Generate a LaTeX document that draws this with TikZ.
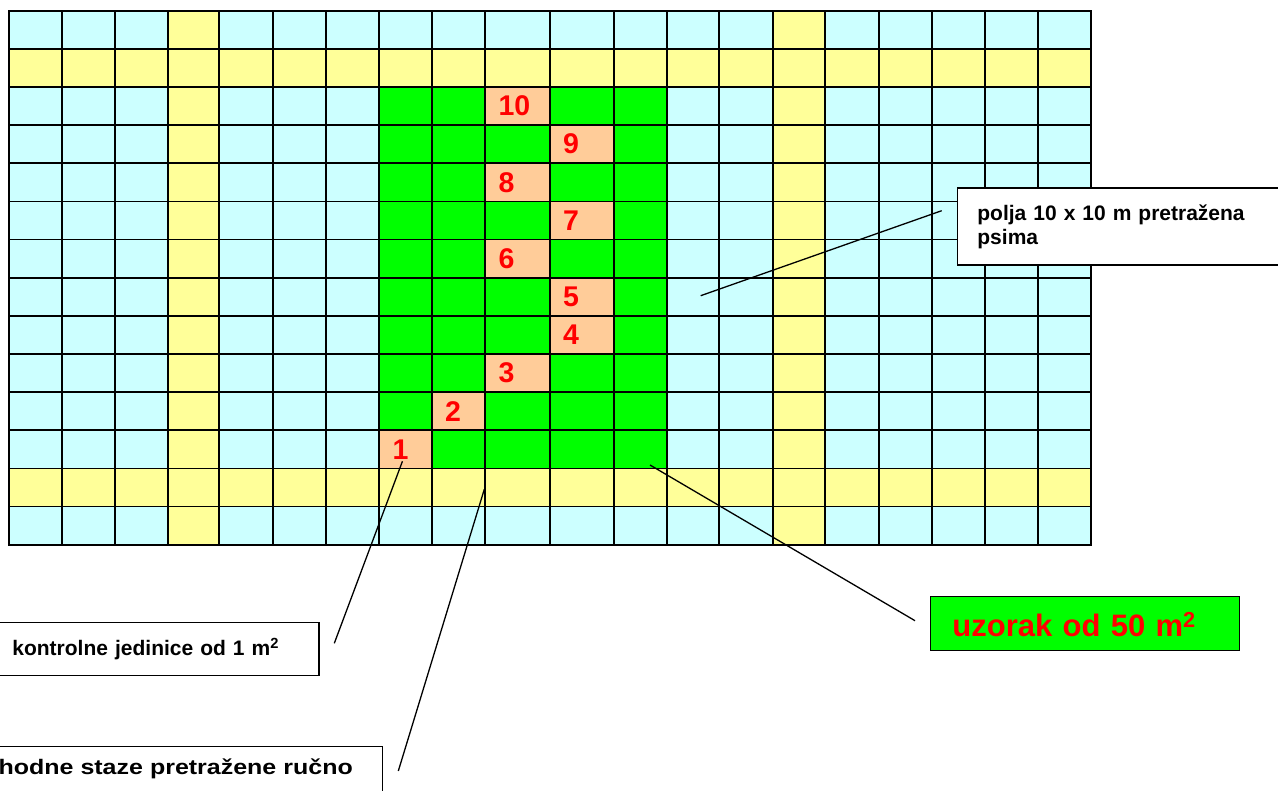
\documentclass[tikz,border=0pt]{standalone}
\usepackage{fontspec}
\setmainfont{Liberation Sans}
\newfontfamily\widefont[FakeStretch=1.19]{Liberation Sans}
\usepackage{xcolor}
\usetikzlibrary{positioning,calc}

\definecolor{cellblue}{HTML}{CCFFFF}
\definecolor{pathyellow}{HTML}{FFFF99}
\definecolor{samplegreen}{HTML}{00FF00}
\definecolor{unitorange}{HTML}{FFCC99}

\tikzset{
  gridline/.style={line width=1.7pt},
  leader/.style={line width=1.3pt},
  numlabel/.style={text=red,anchor=west,inner sep=0pt,font=\fontsize{28.5}{30}\selectfont\bfseries},
  callout/.style={draw,line width=1.4pt,fill=white,align=left,inner ysep=0pt,
    font=\fontsize{21}{23.7}\selectfont\bfseries}
}

\begin{document}
\begin{tikzpicture}[x=1pt,y=-1pt]
\useasboundingbox (0,0) rectangle (1278,791);

% field of 10 x 10 m squares
\fill[cellblue] (8.7,10.7) rectangle (1090.7,544.7);
\fill[pathyellow] (8.7,49) rectangle (1090.7,87);
\fill[pathyellow] (8.7,468.7) rectangle (1090.7,507);
\fill[pathyellow] (167.7,10.7) rectangle (219.3,544.7);
\fill[pathyellow] (772.7,10.7) rectangle (825.3,544.7);
% sample of 50 m2
\fill[samplegreen] (379.3,87) rectangle (666.7,468.7);

% control units of 1 m2
\foreach \n/\xa/\xb/\r in {10/485.3/550/3, 9/550/614/4, 8/485.3/550/5, 7/550/614/6,
  6/485.3/550/7, 5/550/614/8, 4/550/614/9, 3/485.3/550/10, 2/432/485.3/11, 1/379.3/432/12}
  \fill[unitorange] (\xa,{10.7+38.14*(\r-1)}) rectangle (\xb,{10.7+38.14*\r});

% grid
\foreach \x in {8.7,61.7,115,167.7,219.3,272.7,325.7,379.3,432,485.3,550,614,
  666.7,719.3,772.7,825.3,879,931.7,985,1037.7,1090.7}
  \draw[gridline] (\x,10.7) -- (\x,544.7);
\foreach \k in {0,...,14}
  \draw[gridline] (8.7,{10.7+38.14*\k}) -- (1090.7,{10.7+38.14*\k});
\draw[gridline,line join=miter] (8.7,10.7) rectangle (1090.7,544.7);

% numbers
\foreach \n/\xa/\r in {10/485.3/3, 9/550/4, 8/485.3/5, 7/550/6, 6/485.3/7,
  5/550/8, 4/550/9, 3/485.3/10, 2/432/11, 1/379.3/12}
  \node[numlabel] (u\n) at (\xa+13,{10.7+38.14*(\r-0.5)}) {\n};

% callouts
\node[callout,anchor=north west,minimum height=77pt,text width=300pt,inner xsep=20pt]
  (dogs) at (956.7,187.3) {polja 10 x 10 m pretražena\\psima};
\node[callout,anchor=north west,text width=274.9pt,inner xsep=31.7pt,
  text height=33.3pt,text depth=20pt]
  (units) at (-20,621.7) {kontrolne jedinice od 1 m\textsuperscript{2}};
\node[callout,anchor=north west,text width=380pt,inner xsep=1pt,
  text height=27.3pt,text depth=30pt,font=\fontsize{21}{23.7}\selectfont\widefont\bfseries,
  minimum width=401.7pt,xshift=-20pt]
  (paths) at (0,746) {\hspace*{7pt}hodne staze pretražene ručno};
\node[callout,fill=samplegreen,anchor=north west,text width=265.6pt,inner xsep=21.7pt,
  text height=40.3pt,text depth=14pt,text=red,font=\fontsize{31}{34}\selectfont\bfseries]
  (sample) at (930,595.7) {uzorak od 50 m\textsuperscript{2}};

% leader lines
\coordinate (dogs-pt) at (700.7,295.7);
\coordinate (dogs-end) at (941.7,210.7);
\coordinate (units-end) at (334.3,643.3);
\coordinate (paths-pt) at (484.3,489.3);
\coordinate (paths-end) at (398.3,771);
\coordinate (sample-pt) at (650,465);
\coordinate (sample-end) at (915,620.7);
\draw[leader] (dogs-pt) -- (dogs-end);
\draw[leader] ($(u1.south)+(2,2)$) -- (units-end);
\draw[leader] (paths-pt) -- (paths-end);
\draw[leader] (sample-pt) -- (sample-end);
\end{tikzpicture}
\end{document}
